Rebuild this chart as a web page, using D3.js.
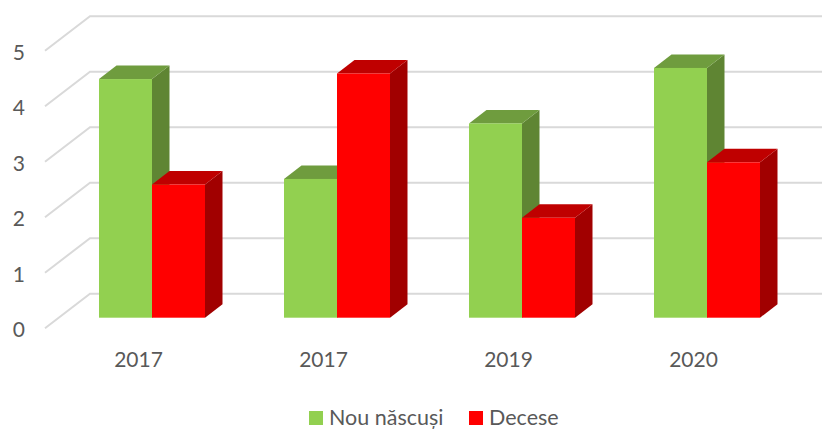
<!DOCTYPE html>
<html>
<head>
<meta charset="utf-8">
<script src="https://cdn.jsdelivr.net/npm/d3@7"></script>
<style>
  html, body { margin: 0; padding: 0; background: #fff; }
  svg { display: block; }
  text { font-family: Lato, "Open Sans", sans-serif; fill: #595959; }
</style>
</head>
<body>
<div id="chart"></div>
<script>
let years = ["2017", "2017", "2019", "2020"]
let nouNascusi = [4.3, 2.5, 3.5, 4.5]
let decese = [2.4, 4.4, 1.8, 2.8]
let seriesNames = ["Nou născuși", "Decese"]
let yTicks = [0, 1, 2, 3, 4, 5]

let w = 822
let h = 429

// colours of a face: front, top, side
let COLORS = [
  { front: "#92D050", top: "#6F9C3E", side: "#5F8533" },
  { front: "#FF0000", top: "#BF0000", side: "#A10000" }
]

let svg = d3.select("#chart")
  .append("svg")
  .attr("width", w)
  .attr("height", h)

// y scale sits on the bars' front plane
let y = d3.scaleLinear().domain([0, 5]).range([317.7, 40.2])

// floor depth of the whole chart and depth of one bar
let floorFront = 10.5, floorBack = -24
let barDx = 17.5, barDy = -13.5

let x = d3.scaleBand()
  .domain(d3.range(years.length))
  .range([59.5, 799.5])
  .paddingInner(0.427)
  .paddingOuter(0.2135)

let xSeries = d3.scaleBand()
  .domain([0, 1])
  .range([0, x.bandwidth()])

// Gridlines: side wall piece + back wall piece
let grid = svg.append("g")
grid.selectAll("path")
  .data(yTicks)
  .enter()
  .append("path")
  .attr("d", d => "M45," + (y(d) + floorFront) + "L90," + (y(d) + floorBack) + "H822")
  .attr("fill", "none")
  .attr("stroke", "#D9D9D9")
  .attr("stroke-width", 2)

// Axes, text only
let yAxis = d3.axisLeft(y).tickValues(yTicks).tickSize(0).tickPadding(0).tickFormat(d3.format("d"))
let yG = svg.append("g")
  .attr("transform", "translate(25, 11.5)")
  .call(yAxis)
yG.select(".domain").remove()
yG.selectAll("text").style("font-size", "21px").attr("dy", "0.36em")

let xAxis = d3.axisBottom(x).tickSize(0).tickPadding(0).tickFormat(i => years[i])
let xG = svg.append("g")
  .attr("transform", "translate(-13.5, 352.4)")
  .call(xAxis)
xG.select(".domain").remove()
xG.selectAll("text").style("font-size", "21px")

// Bars
let rows = []
years.forEach((yr, i) => {
  rows.push({ group: i, s: 0, value: nouNascusi[i] })
  rows.push({ group: i, s: 1, value: decese[i] })
})

let bars = svg.selectAll(".bar")
  .data(rows)
  .enter()
  .append("g")
  .attr("class", "bar")

bars.append("path")
  .attr("fill", d => COLORS[d.s].side)
  .attr("d", d => {
    let x1 = x(d.group) + xSeries(d.s) + xSeries.bandwidth()
    return "M" + x1 + "," + y(d.value) + "l" + barDx + "," + barDy +
      "V" + (y(0) + barDy) + "L" + x1 + "," + y(0) + "Z"
  })

bars.append("path")
  .attr("fill", d => COLORS[d.s].top)
  .attr("d", d => {
    let x0 = x(d.group) + xSeries(d.s)
    return "M" + x0 + "," + y(d.value) + "l" + barDx + "," + barDy +
      "h" + xSeries.bandwidth() + "l" + (-barDx) + "," + (-barDy) + "Z"
  })

bars.append("rect")
  .attr("x", d => x(d.group) + xSeries(d.s))
  .attr("y", d => y(d.value))
  .attr("width", xSeries.bandwidth())
  .attr("height", d => y(0) - y(d.value))
  .attr("fill", d => COLORS[d.s].front)

// Legend
let legendX = [309, 469]
let legend = svg.selectAll(".legend")
  .data(seriesNames)
  .enter()
  .append("g")
  .attr("class", "legend")
  .attr("transform", (d, i) => "translate(" + legendX[i] + ", 411)")

legend.append("rect")
  .attr("width", 14)
  .attr("height", 14)
  .attr("fill", (d, i) => COLORS[i].front)

legend.append("text")
  .attr("x", 20)
  .attr("y", 14)
  .style("font-size", "21.5px")
  .text(d => d)
</script>
</body>
</html>
